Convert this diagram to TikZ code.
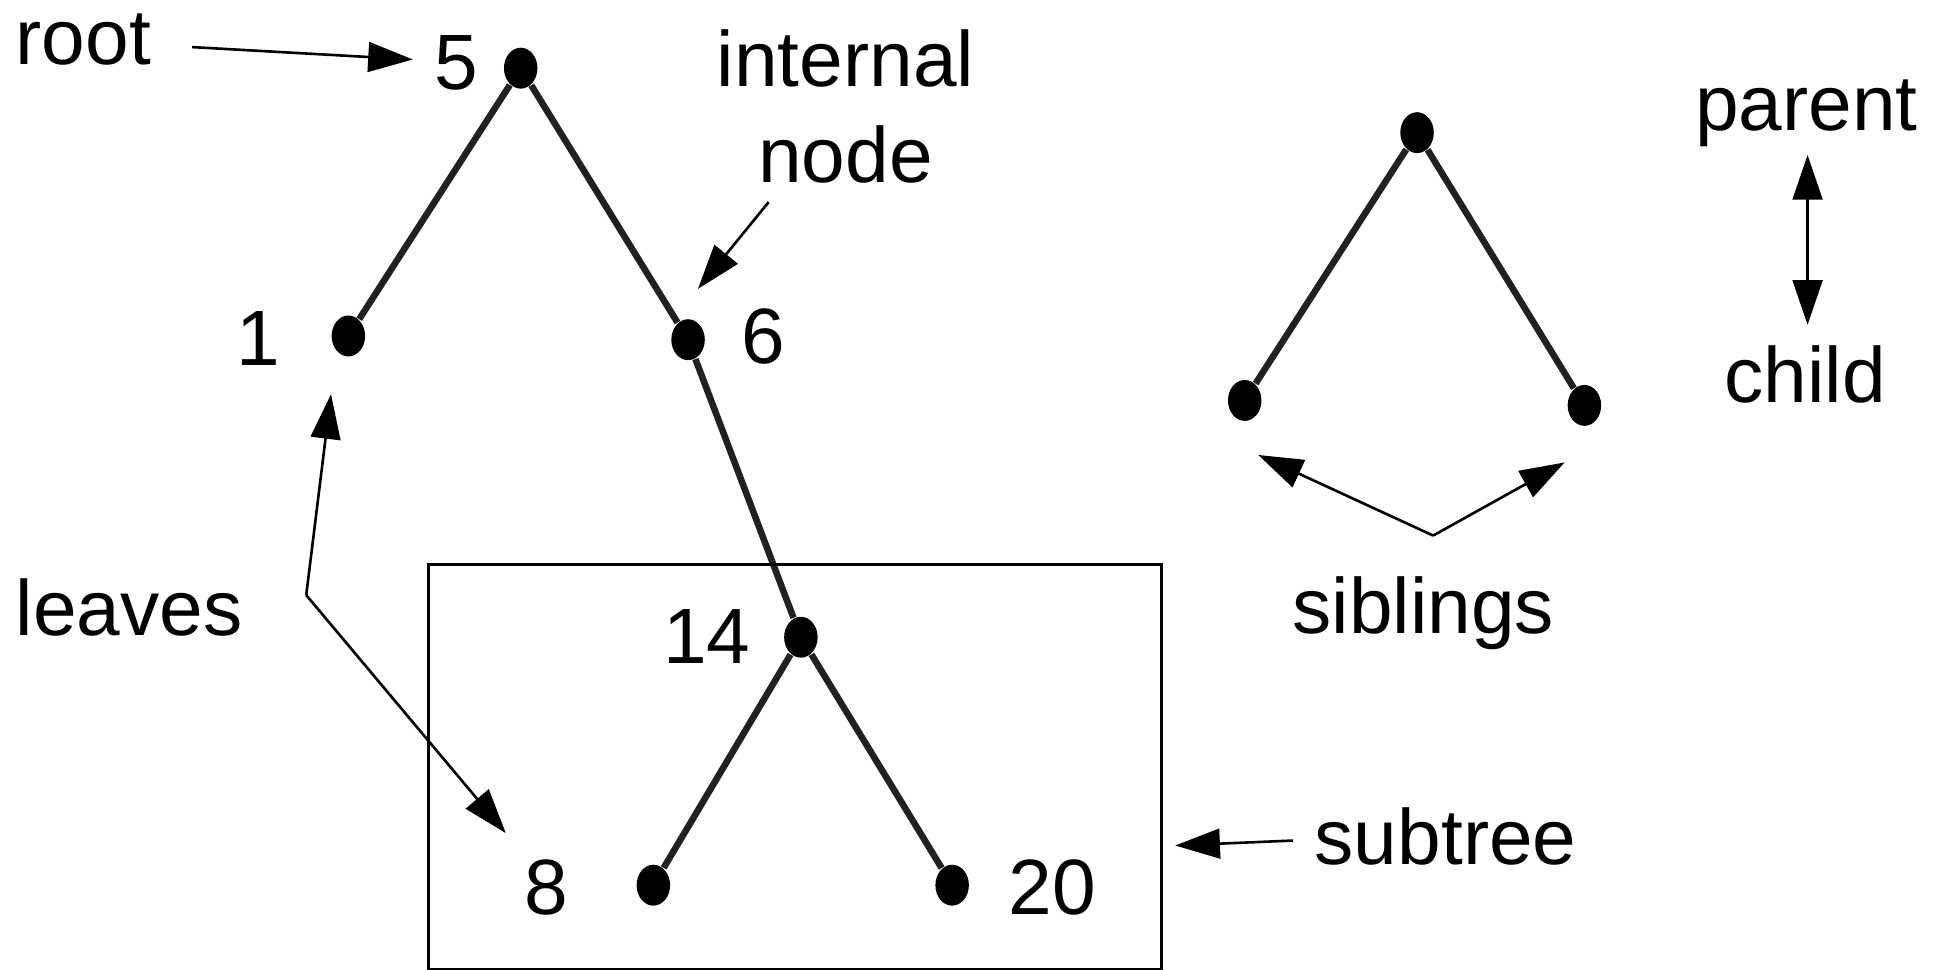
\documentclass[tikz,border=0pt]{standalone}
\usepackage{fontspec}
\setmainfont{Liberation Sans}
\usetikzlibrary{shapes.geometric,arrows.meta}

\begin{document}
\begin{tikzpicture}[
        dot/.style={ellipse,fill=black,inner sep=0pt,minimum width=0.27cm,minimum height=0.33cm},
        edge/.style={line width=1.5pt,color=black!87},
        pointer/.style={line width=0.6pt,-{Triangle[length=0.36cm,width=0.24cm]}},
        twoway/.style={line width=0.6pt,{Triangle[length=0.36cm,width=0.24cm]}-{Triangle[length=0.36cm,width=0.24cm]}},
        lbl/.style={inner sep=0pt,font=\fontsize{18}{22}\selectfont}]
        \useasboundingbox (0,0) rectangle (15.6,7.82);
        % main tree
        \node[dot](d5) at (4.20,7.27) {};
        \node[dot](d1) at (2.81,5.11) {};
        \node[dot](d6) at (5.55,5.08) {};
        \node[dot](d14) at (6.46,2.68) {};
        \node[dot](d8) at (5.27,0.68) {};
        \node[dot](d20) at (7.68,0.68) {};
        \draw[edge](d5)--(d1);
        \draw[edge](d5)--(d6);
        \draw[edge](d6)--(d14);
        \draw[edge](d14)--(d8);
        \draw[edge](d14)--(d20);
        \node[lbl,anchor=base](l5) at (3.68,7.10) {5};
        \node[lbl,anchor=base](l1) at (2.08,4.87) {1};
        \node[lbl,anchor=base](l6) at (6.16,4.89) {6};
        \node[lbl,anchor=base](l14) at (5.70,2.47) {14};
        \node[lbl,anchor=base](l8) at (4.41,0.44) {8};
        \node[lbl,anchor=base](l20) at (8.49,0.44) {20};
        % subtree box
        \draw[line width=0.7pt](3.46,0) rectangle (9.37,3.27);
        % small tree
        \node[dot](sp) at (11.43,6.75) {};
        \node[dot](sl) at (10.04,4.59) {};
        \node[dot](sr) at (12.78,4.55) {};
        \draw[edge](sp)--(sl);
        \draw[edge](sp)--(sr);
        % annotations
        \node[lbl,anchor=base west](root) at (0.12,7.30) {root};
        \node[lbl,anchor=base](internal) at (6.82,7.12) {internal};
        \node[lbl,anchor=base](node) at (6.82,6.35) {node};
        \node[lbl,anchor=base west](leaves) at (0.12,2.69) {leaves};
        \node[lbl,anchor=base](siblings) at (11.48,2.71) {siblings};
        \node[lbl,anchor=base](subtree) at (11.66,0.85) {subtree};
        \node[lbl,anchor=base](parent) at (14.57,6.77) {parent};
        \node[lbl,anchor=base](child) at (14.56,4.57) {child};
        \coordinate(ra) at (1.55,7.44);
        \coordinate(rb) at (3.33,7.34);
        \coordinate(ia) at (6.20,6.19);
        \coordinate(ib) at (5.63,5.49);
        \coordinate(lc) at (2.47,3.02);
        \coordinate(la) at (2.67,4.64);
        \coordinate(lb) at (4.08,1.10);
        \coordinate(ta) at (10.43,1.04);
        \coordinate(tb) at (9.48,1.00);
        \coordinate(sc) at (11.56,3.50);
        \coordinate(sa) at (10.15,4.15);
        \coordinate(sb) at (12.62,4.09);
        \coordinate(pa) at (14.58,6.57);
        \coordinate(pb) at (14.58,5.20);
        \draw[pointer](ra)--(rb);
        \draw[pointer](ia)--(ib);
        \draw[pointer](lc)--(la);
        \draw[pointer](lc)--(lb);
        \draw[pointer](ta)--(tb);
        \draw[pointer](sc)--(sa);
        \draw[pointer](sc)--(sb);
        \draw[twoway](pa)--(pb);
        \end{tikzpicture}
\end{document}
